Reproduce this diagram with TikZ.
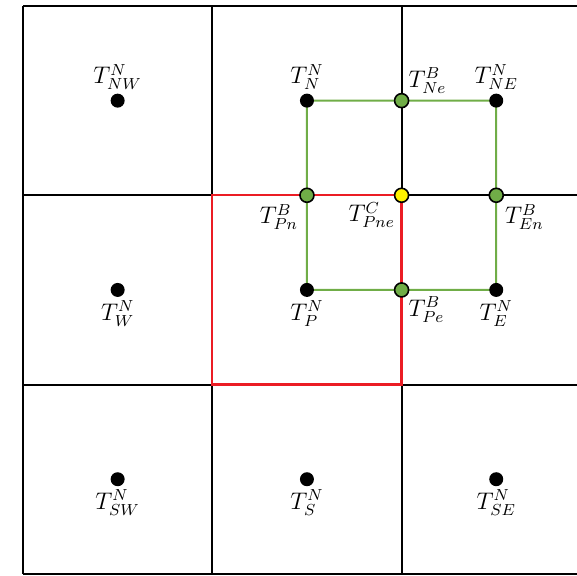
\documentclass[tikz,border=0pt]{standalone}
\usepackage{amsmath}
\usetikzlibrary{positioning,calc,backgrounds}
\definecolor{cellgreen}{RGB}{112,173,71}
\definecolor{cellred}{RGB}{235,28,36}
\definecolor{cellyellow}{RGB}{255,242,0}
\tikzset{
  cellline/.style={line width=1pt},
  ptnode/.style={circle,fill=black,minimum size=7pt,inner sep=0pt},
  bdnode/.style={circle,draw=black,fill=cellgreen,line width=0.8pt,minimum size=7pt,inner sep=0pt},
  cnnode/.style={bdnode,fill=cellyellow},
  every label/.style={font=\large,inner sep=1.5pt},
}

\begin{document}
\begin{tikzpicture}[x=94.65pt,y=94.65pt,node distance=94.65pt,on grid]
  \useasboundingbox (-0.1215,-0.006) rectangle (2.9266,3.0317);
  \clip (-0.1215,-0.006) rectangle (2.9266,3.0317);

  % cell centres
  \node[ptnode,label=above:{$T^N_{NW}$}] (NW) at (0.5,2.5) {};
  \node[ptnode,right=of NW,label=above:{$T^N_{N}$}] (N) {};
  \node[ptnode,right=of N,label=above:{$T^N_{NE}$}] (NE) {};
  \node[ptnode,below=of NW,label=below:{$T^N_{W}$}] (W) {};
  \node[ptnode,right=of W,label=below:{$T^N_{P}$}] (P) {};
  \node[ptnode,right=of P,label=below:{$T^N_{E}$}] (E) {};
  \node[ptnode,below=of W,label=below:{$T^N_{SW}$}] (SW) {};
  \node[ptnode,right=of SW,label=below:{$T^N_{S}$}] (S) {};
  \node[ptnode,right=of S,label=below:{$T^N_{SE}$}] (SE) {};

  % face and corner points
  \node[bdnode,label={[inner sep=0.5pt]above right:{$T^B_{Ne}$}}] (Ne) at ($(N)!0.5!(NE)$) {};
  \node[bdnode,label=below left:{$T^B_{Pn}$}] (Pn) at ($(N)!0.5!(P)$) {};
  \node[bdnode,label=below right:{$T^B_{En}$}] (En) at ($(NE)!0.5!(E)$) {};
  \node[bdnode,label={[inner sep=0.5pt]below right:{$T^B_{Pe}$}}] (Pe) at ($(P)!0.5!(E)$) {};
  \node[cnnode,label={[inner sep=0.5pt]below left:{$T^C_{Pne}$}}] (Pne) at ($(N)!0.5!(E)$) {};

  \begin{pgfonlayer}{background}
    \draw[cellline] (0,0) grid[step=94.65pt] (3,3);
    \draw[cellred,line width=1.2pt] (1,1) rectangle (2,2);
    \draw[cellgreen,line width=1pt] (N.center) -- (Ne.center) -- (NE.center)
      -- (En.center) -- (E.center) -- (Pe.center) -- (P.center) -- (Pn.center) -- cycle;
  \end{pgfonlayer}
\end{tikzpicture}
\end{document}
